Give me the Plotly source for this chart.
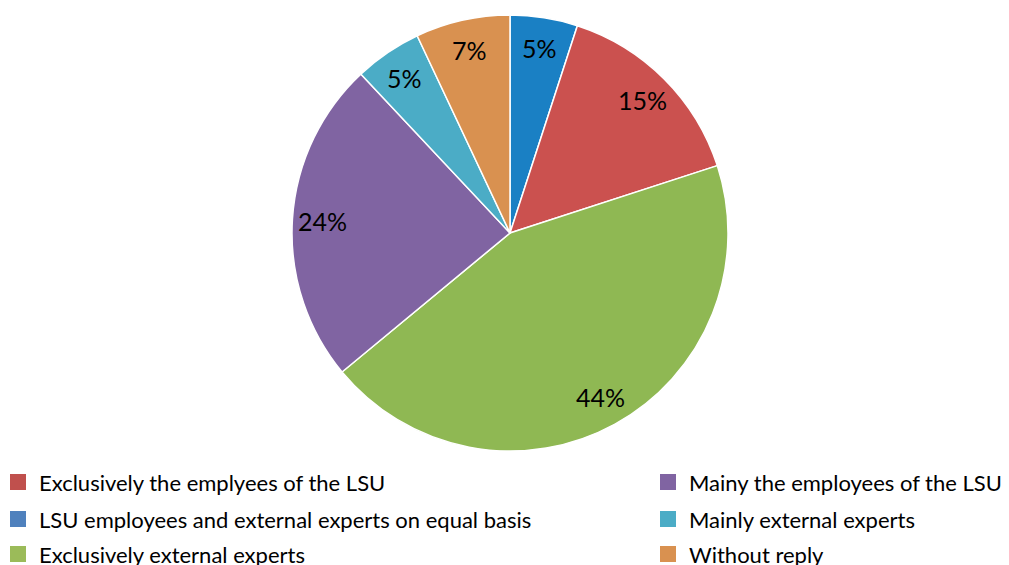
import math
import plotly.graph_objects as go

# Who prepared the documents (share of responses)
labels = [
    "LSU employees and external experts on equal basis",
    "Exclusively the emplyees of the LSU",
    "Exclusively external experts",
    "Mainy the employees of the LSU",
    "Mainly external experts",
    "Without reply",
]
values = [5, 15, 44, 24, 5, 7]
slice_colors = ["#1A80C4", "#CB514F", "#8FB853", "#8064A2", "#4BACC6", "#D99150"]
legend_colors = ["#4F81BD", "#C0504D", "#9BBB59", "#8064A2", "#4BACC6", "#D99150"]

# legend columns (indices into labels)
left_col = [1, 0, 2]
right_col = [3, 4, 5]

W, H = 1009, 565
cx, cy, r = 510, 233, 218
FONT = "Lato"

fig = go.Figure(
    go.Pie(
        labels=labels,
        values=values,
        sort=False,
        direction="clockwise",
        rotation=0,
        marker=dict(colors=slice_colors, line=dict(color="white", width=1.5)),
        textinfo="none",
        domain=dict(x=[(cx - r) / W, (cx + r) / W], y=[(H - cy - r) / H, (H - cy + r) / H]),
        showlegend=False,
        hoverinfo="label+percent",
    )
)

annots = []

# percentage labels placed near the outer part of each slice, along its mid-angle
total = sum(values)
cum = 0
for v in values:
    mid = (cum + v / 2) / total * 2 * math.pi
    cum += v
    rr = 0.86 * r
    annots.append(dict(
        xref="paper", yref="paper",
        x=(cx + rr * math.sin(mid)) / W, y=(H - cy + rr * math.cos(mid)) / H,
        text=f"{round(v / total * 100)}%", showarrow=False,
        xanchor="center", yanchor="middle",
        font=dict(family=FONT, size=25, color="black"),
    ))

# custom two-column legend
shapes = []
row_y = [482, 519, 554]
for col_x, idxs in ((10, left_col), (660, right_col)):
    for ry, i in zip(row_y, idxs):
        shapes.append(dict(
            type="rect", xref="paper", yref="paper",
            x0=col_x / W, x1=(col_x + 16) / W,
            y0=(H - ry - 8) / H, y1=(H - ry + 8) / H,
            fillcolor=legend_colors[i], line=dict(width=0),
        ))
        annots.append(dict(
            xref="paper", yref="paper", x=(col_x + 27) / W, y=(H - ry) / H,
            text=labels[i], showarrow=False, xanchor="left", yanchor="middle",
            font=dict(family=FONT, size=22, color="black"),
        ))

fig.update_layout(
    width=W, height=H,
    margin=dict(l=0, r=0, t=0, b=0),
    paper_bgcolor="white", plot_bgcolor="white",
    shapes=shapes, annotations=annots,
)

fig.write_html("out.html")
